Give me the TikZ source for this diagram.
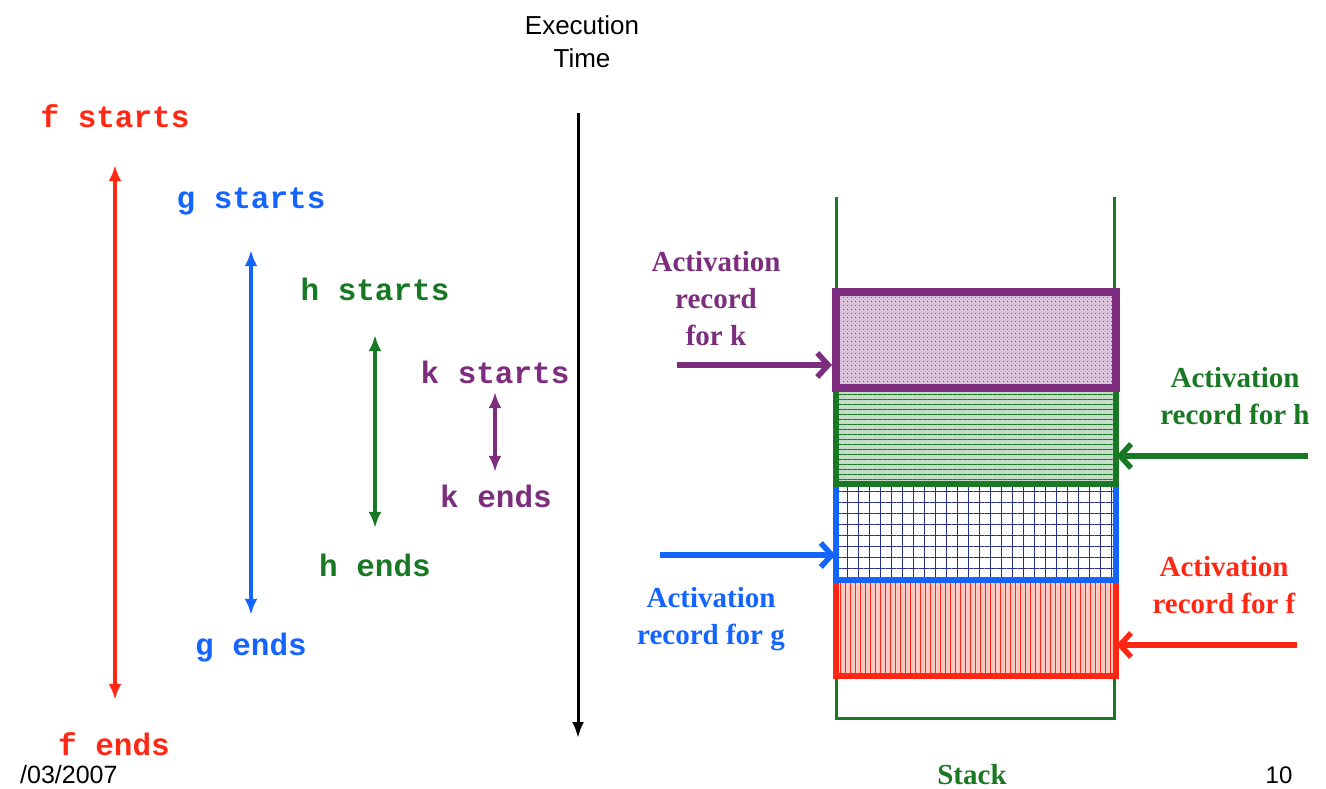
\documentclass[tikz,border=0pt]{standalone}
\usepackage{fontspec}
\setmainfont{Liberation Serif}
\setsansfont{Liberation Sans}
\setmonofont{Liberation Mono}
\usetikzlibrary{arrows.meta,positioning,patterns.meta}
\definecolor{fred}{RGB}{255,40,20}
\definecolor{fblue}{RGB}{20,100,255}
\definecolor{fgreen}{RGB}{25,120,35}
\definecolor{fpurple}{RGB}{125,45,125}
\definecolor{fnavy}{RGB}{40,50,140}

\begin{document}
\begin{tikzpicture}[x=1pt, y=-1pt,
  every node/.style={inner sep=0pt},
  lbl/.style={font=\ttfamily\bfseries\fontsize{31}{36}\selectfont, text height=14pt, text depth=4pt},
  span/.style={{Latex[length=16pt,width=13pt]}-{Latex[length=16pt,width=13pt]}, line width=3.5pt},
  rec/.style={minimum width=280pt, minimum height=96pt, line width=6pt},
  note/.style={font=\bfseries\fontsize{29}{37}\selectfont, align=center},
  recarr/.style={-{Straight Barb[length=11pt,width=24pt]}, line width=5.5pt},
]
\useasboundingbox (0,0) rectangle (1326,789);

% life times of the calls
\node[lbl, text=fred] (fs) at (115,123) {f starts};
\node[lbl, text=fred] (fe) at (114,750) {f ends};
\node[lbl, text=fblue] (gs) at (251,203) {g starts};
\node[lbl, text=fblue] (ge) at (251,650) {g ends};
\node[lbl, text=fgreen] (hs) at (375,295) {h starts};
\node[lbl, text=fgreen] (he) at (375,571) {h ends};
\node[lbl, text=fpurple] (ks) at (495,378) {k starts};
\node[lbl, text=fpurple] (ke) at (496,502) {k ends};
\draw[span, fred, shorten <=33pt, shorten >=41pt] (fs.south) -- (fs.south |- fe.north);
\draw[span, fblue, shorten <=38pt, shorten >=26pt] (gs.south) -- (gs.south |- ge.north);
\draw[span, fgreen, shorten <=31pt, shorten >=34pt] (hs.south) -- (hs.south |- he.north);
\draw[span, fpurple, shorten <=5pt, shorten >=21pt] (ks.south) -- (ks.south |- ke.north);

\node[font=\sffamily\fontsize{26}{33}\selectfont, align=center] (exec) at (582,42) {Execution\\Time};
\coordinate (tend) at (578,738);
\draw[-{Latex[length=16pt,width=12pt]}, line width=3pt, shorten <=45pt] (exec.south -| tend) -- (tend);

% the stack
\coordinate (stl) at (836,197);
\coordinate (str) at (1114,197);
\coordinate (stb) at (975,718);
\draw[fgreen, line width=3pt] (stl) -- (stl |- stb) -- (str |- stb) -- (str);
\node[font=\bfseries\fontsize{29}{34}\selectfont, text=fgreen] (stack) at (972,775) {Stack};

\node[rec, draw=fred, preaction={fill=fred!25}, pattern={Lines[angle=90,distance=5pt,line width=0.6pt]}, pattern color=fred] (rf) at (976,628) {};
\node[rec, draw=fblue, preaction={fill=white}, pattern={Hatch[angle=0,distance=11pt,line width=1pt]}, pattern color=fnavy] (rg) at (976,532) {};
\node[rec, draw=fgreen, preaction={fill=fgreen!25}, pattern={Lines[angle=0,distance=5pt,line width=0.7pt]}, pattern color=fgreen] (rh) at (976,436) {};
\node[rec, draw=fpurple, line width=8pt, preaction={fill=fpurple!30}, pattern={Dots[distance=4pt,radius=0.6pt]}, pattern color=fpurple] (rk) at (976,340) {};

% activation records
\node[note, text=fpurple] (lk) at (716,299) {Activation\\record\\for k};
\node[note, text=fgreen] (lh) at (1235,396) {Activation\\record for h};
\node[note, text=fblue] (lg) at (711,619) {Activation\\record for g};
\node[note, text=fred] (lf) at (1224,585) {Activation\\record for f};
\coordinate (ka) at (677,365);
\coordinate (ha) at (1308,456);
\coordinate (ga) at (660,555);
\coordinate (fa) at (1297,645);
\draw[recarr, fpurple] (ka) -- (ka -| rk.west);
\draw[recarr, fgreen] (ha) -- (ha -| rh.east);
\draw[recarr, fblue] (ga) -- (ga -| rg.west);
\draw[recarr, fred] (fa) -- (fa -| rf.east);

\node[font=\sffamily\fontsize{25}{30}\selectfont, anchor=west] (date) at (20,775) {/03/2007};
\node[font=\sffamily\fontsize{24}{28}\selectfont] (pg) at (1279,775) {10};
\end{tikzpicture}
\end{document}
